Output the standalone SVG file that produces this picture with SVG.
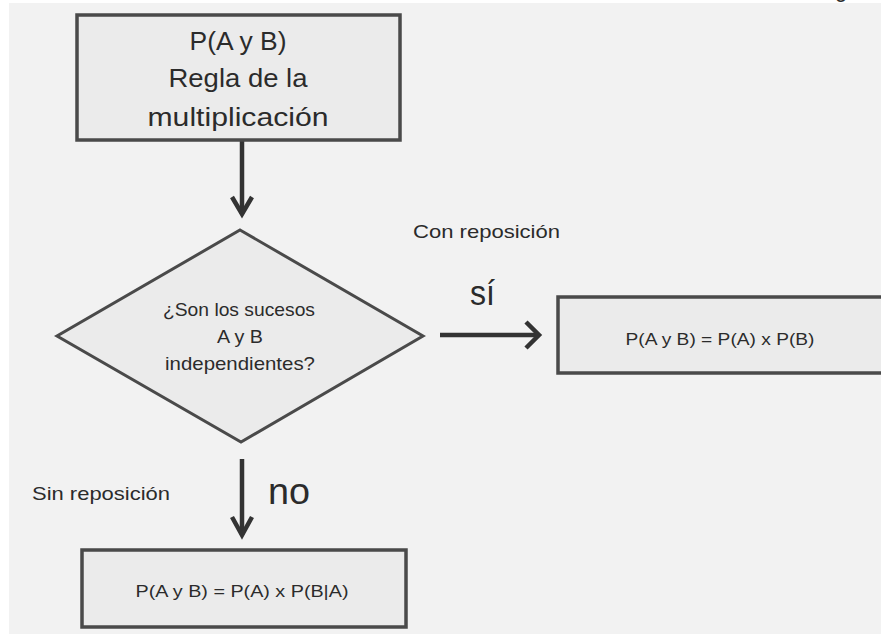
<svg xmlns="http://www.w3.org/2000/svg" width="881" height="634" viewBox="0 0 881 634">
<style>
.box{fill:#ebebeb;stroke:#4a4a4a;stroke-width:3.5}
.t{font-family:"Liberation Sans",Arial,sans-serif;fill:#2b2b2b;text-anchor:middle}
.l{font-family:"Liberation Sans",Arial,sans-serif;fill:#2b2b2b}
.arr{fill:none;stroke:#333;stroke-width:4.5;stroke-linecap:butt;stroke-linejoin:miter}
</style>
<rect x="0" y="0" width="881" height="634" fill="#ffffff"/>
<rect x="9" y="3" width="872" height="631" fill="#f2f2f2"/>
<text class="l" x="835" y="-3" font-size="22" fill="#000">g</text>
<g id="connectors">
  <g id="c1"><line class="arr" x1="242" y1="140" x2="242" y2="214"/><polyline class="arr" points="232,197 242,214 252,197"/></g>
  <g id="c2"><line class="arr" x1="440" y1="335" x2="537" y2="335"/><polyline class="arr" points="526,322 539,335 526,348"/></g>
  <g id="c3"><line class="arr" x1="242" y1="459" x2="242" y2="535"/><polyline class="arr" points="232,517 242,535 252,517"/></g>
</g>
<g id="start">
  <rect class="box" x="77" y="15" width="323" height="125"/>
  <text class="t" x="238" y="50" font-size="25" textLength="97" lengthAdjust="spacingAndGlyphs">P(A y B)</text>
  <text class="t" x="238" y="87" font-size="25" textLength="139" lengthAdjust="spacingAndGlyphs">Regla de la</text>
  <text class="t" x="238" y="126" font-size="25" textLength="181" lengthAdjust="spacingAndGlyphs">multiplicación</text>
</g>
<g id="decision">
  <polygon points="240,230 423,336 241,442 57,336" fill="#ebebeb" stroke="#4a4a4a" stroke-width="3"/>
  <text class="t" x="239" y="316" font-size="19" textLength="152" lengthAdjust="spacingAndGlyphs">¿Son los sucesos</text>
  <text class="t" x="240" y="343" font-size="19" textLength="46" lengthAdjust="spacingAndGlyphs">A y B</text>
  <text class="t" x="240" y="370" font-size="19" textLength="150" lengthAdjust="spacingAndGlyphs">independientes?</text>
</g>
<g id="label-con">
  <text class="l" x="413" y="238" font-size="19" textLength="147" lengthAdjust="spacingAndGlyphs">Con reposición</text>
</g>
<g id="label-si">
  <text class="l" x="470" y="305" font-size="35" textLength="25" lengthAdjust="spacingAndGlyphs">sí</text>
</g>
<g id="independent">
  <rect class="box" x="558" y="297" width="340" height="76"/>
  <text class="t" x="720" y="345" font-size="17" textLength="189" lengthAdjust="spacingAndGlyphs">P(A y B) = P(A) x P(B)</text>
</g>
<g id="label-sin">
  <text class="l" x="32" y="500" font-size="19" textLength="138" lengthAdjust="spacingAndGlyphs">Sin reposición</text>
</g>
<g id="label-no">
  <text class="l" x="268" y="504" font-size="37" textLength="42" lengthAdjust="spacingAndGlyphs">no</text>
</g>
<g id="dependent">
  <rect class="box" x="82" y="550" width="324" height="77"/>
  <text class="t" x="242" y="597" font-size="17" textLength="213" lengthAdjust="spacingAndGlyphs">P(A y B) = P(A) x P(B|A)</text>
</g>
</svg>
